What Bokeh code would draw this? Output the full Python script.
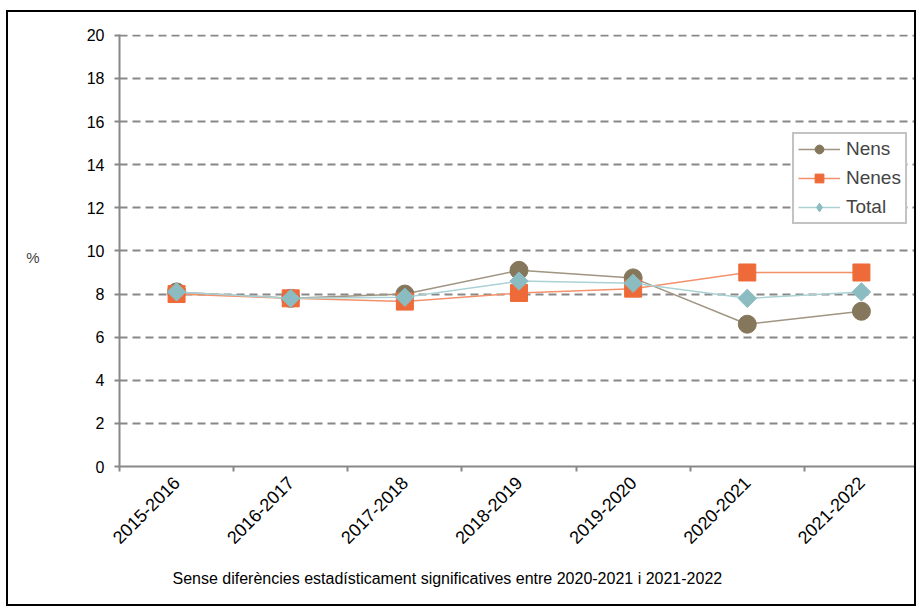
import math
from bokeh.plotting import figure
from bokeh.models import (ColumnDataSource, FixedTicker, Legend, LegendItem, Title, Range1d)
from bokeh.embed import file_html
from bokeh.resources import INLINE

cursos = ["2015-2016", "2016-2017", "2017-2018", "2018-2019", "2019-2020", "2020-2021", "2021-2022"]
nens = [8.1, 7.8, 8.0, 9.1, 8.75, 6.6, 7.2]
nenes = [8.0, 7.8, 7.65, 8.05, 8.25, 9.0, 9.0]
total = [8.1, 7.8, 7.85, 8.6, 8.5, 7.8, 8.1]
y_ticks = list(range(0, 21, 2))

FONT = "Liberation Sans"
xpos = [i + 0.5 for i in range(len(cursos))]
src = ColumnDataSource(dict(x=xpos, nens=nens, nenes=nenes, total=total))

p = figure(width=910, height=596, output_backend="svg", toolbar_location=None,
           x_range=Range1d(0, len(cursos)), y_range=Range1d(0, 20.04),
           min_border_left=111, min_border_right=0, min_border_top=22, min_border_bottom=142)
p.styles = {"border": "2px solid black", "margin-left": "6px", "margin-top": "10px"}
p.outline_line_color = None

c_nens, c_nens_l = "#85775b", "#a09482"
c_nenes, c_nenes_l = "#ee6a38", "#f4916a"
c_total, c_total_l = "#8bbcc1", "#aad2d5"

l1 = p.line("x", "nens", source=src, line_color=c_nens_l, line_width=1.5)
m1 = p.scatter("x", "nens", source=src, marker="circle", size=18, fill_color=c_nens, line_color=c_nens)
l2 = p.line("x", "nenes", source=src, line_color=c_nenes_l, line_width=1.5)
m2 = p.scatter("x", "nenes", source=src, marker="square", size=17, fill_color=c_nenes, line_color=c_nenes)
l3 = p.line("x", "total", source=src, line_color=c_total_l, line_width=1.5)
m3 = p.scatter("x", "total", source=src, marker="square", angle=math.pi / 4, size=13,
               fill_color=c_total, line_color=c_total)
# hidden twin used only for the legend swatch (legends ignore marker angle)
m3_leg = p.scatter("x", "total", source=src, marker="diamond", size=13,
                   fill_color=c_total, line_color=c_total, visible=False)

# axes
p.xaxis.ticker = FixedTicker(ticks=xpos, minor_ticks=list(range(len(cursos) + 1)))
p.xaxis.major_label_overrides = {x: c for x, c in zip(xpos, cursos)}
p.xaxis.major_label_orientation = 0.785398
p.xaxis.major_tick_out = 0
p.xaxis.major_tick_in = 0
p.xaxis.minor_tick_out = 5
p.xaxis.minor_tick_in = 0
p.xaxis.minor_tick_line_color = "#888888"
p.xaxis.minor_tick_line_width = 2
p.xaxis.axis_line_color = "#888888"
p.xaxis.axis_line_width = 2
p.xaxis.major_label_text_font = FONT
p.xaxis.major_label_text_font_size = "18px"
p.xaxis.major_label_text_color = "#000000"
p.xaxis.major_label_standoff = 8

p.yaxis.ticker = FixedTicker(ticks=y_ticks)
p.yaxis.minor_tick_line_color = None
p.yaxis.major_tick_out = 5
p.yaxis.major_tick_in = 0
p.yaxis.major_tick_line_color = "#888888"
p.yaxis.major_tick_line_width = 2
p.yaxis.axis_line_color = "#888888"
p.yaxis.axis_line_width = 2
p.yaxis.major_label_text_font = FONT
p.yaxis.major_label_text_font_size = "16px"
p.yaxis.major_label_text_color = "#000000"
p.yaxis.major_label_standoff = 10
p.yaxis.axis_label = "\n%"
p.yaxis.axis_label_orientation = "horizontal"
p.yaxis.axis_label_text_font = FONT
p.yaxis.axis_label_text_font_style = "normal"
p.yaxis.axis_label_text_font_size = "15px"
p.yaxis.axis_label_text_line_height = 0.8
p.yaxis.axis_label_standoff = 44

p.xgrid.grid_line_color = None
p.ygrid.grid_line_color = "#888888"
p.ygrid.grid_line_width = 2
p.ygrid.grid_line_dash = "8 5"

legend = Legend(items=[LegendItem(label="Nens", renderers=[l1, m1]),
                       LegendItem(label="Nenes", renderers=[l2, m2]),
                       LegendItem(label="Total", renderers=[l3, m3_leg])],
                glyph_width=42, glyph_height=22, spacing=7,
                padding=4, margin=0, label_text_font=FONT, label_text_font_size="19px",
                border_line_color="#888888", border_line_width=2, background_fill_alpha=1,
                label_standoff=6)
legend.location = (673, 242)
p.add_layout(legend, "center")

t = Title(text="Sense diferències estadísticament significatives entre 2020-2021 i 2021-2022",
          align="left", offset=53, text_font=FONT, text_font_size="16px",
          text_font_style="normal", text_color="#000000", standoff=30)
p.add_layout(t, "below")

open("out.html", "w").write(file_html(p, INLINE))
